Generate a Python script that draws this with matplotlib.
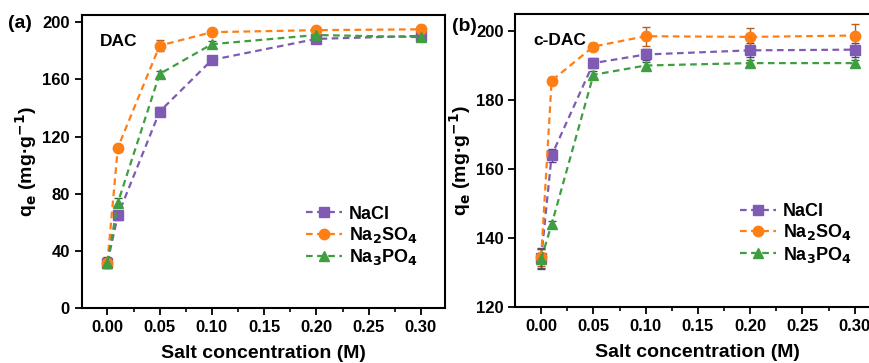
import matplotlib
matplotlib.use("Agg")
import matplotlib.pyplot as plt
from matplotlib.ticker import MultipleLocator, FormatStrFormatter
from matplotlib.lines import Line2D

plt.rcParams['font.family'] = ['Liberation Sans', 'DejaVu Sans']
plt.rcParams['font.weight'] = 'bold'
plt.rcParams['mathtext.default'] = 'bf'

conc = [0.0, 0.01, 0.05, 0.10, 0.20, 0.30]
salts = ["NaCl", "Na$_2$SO$_4$", "Na$_3$PO$_4$"]

# DAC
dac_nacl = [32, 65, 137.5, 173.6, 188.3, 190.4]
dac_nacl_err = [3, 3, 3, 2, 2, 2]
dac_na2so4 = [32, 112.3, 183.6, 193.0, 194.4, 195.0]
dac_na2so4_err = [3, 2, 4, 2, 2, 3]
dac_na3po4 = [32, 73.8, 163.8, 184.6, 191.0, 189.5]
dac_na3po4_err = [4, 3, 2, 2, 2, 2]

# c-DAC
cdac_nacl = [134.2, 164.0, 190.8, 193.3, 194.5, 194.7]
cdac_nacl_err = [3, 2, 1.5, 1.5, 2, 2]
cdac_na2so4 = [134.5, 185.7, 195.6, 198.6, 198.4, 198.8]
cdac_na2so4_err = [2.5, 1, 1, 2.8, 2.5, 3.3]
cdac_na3po4 = [134.0, 144.0, 187.4, 190.1, 190.8, 190.8]
cdac_na3po4_err = [3, 1, 1, 1, 1, 1]

colors = ["#7f5bb3", "#ff7f17", "#3f9e3f"]
ecolors = ["#5a3d86", "#b5601e", "#2a6e2a"]
markers = ["s", "o", "^"]
dash = (0, (3, 2))

fig = plt.figure(figsize=(8.7, 3.63), dpi=100)
ax1 = fig.add_axes([0.0939, 0.1507, 0.4175, 0.808])
ax2 = fig.add_axes([0.5925, 0.1540, 0.4175, 0.807])

panels = [
    (ax1, [dac_nacl, dac_na2so4, dac_na3po4],
     [dac_nacl_err, dac_na2so4_err, dac_na3po4_err], (0, 205), 40, "DAC",
     (0.617, 0.245)),
    (ax2, [cdac_nacl, cdac_na2so4, cdac_na3po4],
     [cdac_nacl_err, cdac_na2so4_err, cdac_na3po4_err], (120, 205), 20, "c-DAC",
     (0.617, 0.25)),
]

for ax, series, errs, ylim, ystep, name, legpos in panels:
    handles = []
    for vals, err, lab, c, ec, m in zip(series, errs, salts, colors, ecolors, markers):
        ax.errorbar(conc, vals, yerr=err, color=c, ecolor=ec, elinewidth=1.0,
                    capsize=3, capthick=1.0, linestyle=dash, linewidth=1.6,
                    marker=m, markersize=7.5)
        handles.append(Line2D([], [], color=c, linestyle=dash, linewidth=1.6,
                              marker=m, markersize=7.5, label=lab))
    ax.set_xlim(-0.0246, 0.323)
    ax.set_ylim(*ylim)
    ax.xaxis.set_major_locator(MultipleLocator(0.05))
    ax.xaxis.set_minor_locator(MultipleLocator(0.025))
    ax.yaxis.set_major_locator(MultipleLocator(ystep))
    ax.xaxis.set_major_formatter(FormatStrFormatter('%.2f'))
    ax.tick_params(axis='both', which='major', direction='out', length=5, width=1.3,
                   labelsize=12)
    ax.tick_params(axis='x', which='minor', direction='out', length=3, width=1.2)
    for sp in ax.spines.values():
        sp.set_linewidth(1.5)
    for lbl in ax.get_xticklabels() + ax.get_yticklabels():
        lbl.set_fontweight('bold')
    ax.set_xlabel("Salt concentration (M)", fontsize=14, fontweight='bold', labelpad=7)
    ax.set_ylabel("q$_e$ (mg·g$^{-1}$)", fontsize=14, fontweight='bold', labelpad=2)
    ax.text(0.05, 0.935, name, transform=ax.transAxes, fontsize=12.5,
            fontweight='bold', va='top', ha='left')
    ax.legend(handles=handles, loc='center left', bbox_to_anchor=legpos,
              borderaxespad=0, borderpad=0, frameon=False, fontsize=13,
              handlelength=2.0, handletextpad=0.4, labelspacing=0.12)

fig.text(0.009, 0.935, "(a)", fontsize=14, fontweight='bold', ha='left', va='center')
fig.text(0.519, 0.928, "(b)", fontsize=14, fontweight='bold', ha='left', va='center')

fig.savefig("out.png", dpi=100)
